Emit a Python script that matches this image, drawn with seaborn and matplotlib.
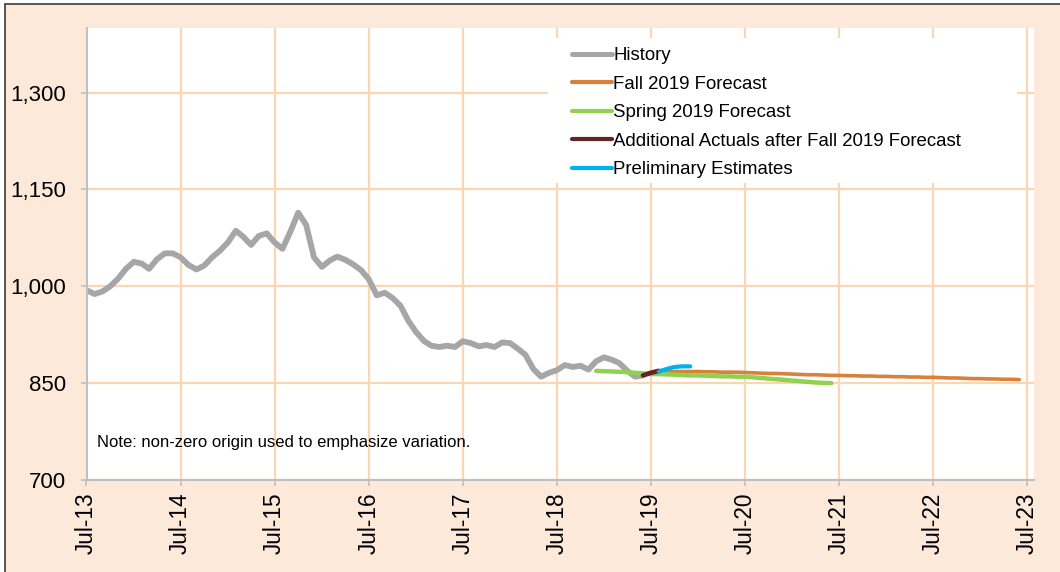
import matplotlib
matplotlib.use("Agg")
import matplotlib.pyplot as plt
import matplotlib.dates as mdates
import matplotlib.ticker as mtick
from matplotlib.patches import Rectangle
import numpy as np
import pandas as pd
import seaborn as sns

# monthly values
history_start = '2013-07-01'
history = [994, 988, 992, 1000, 1012, 1027, 1038, 1035, 1027, 1042, 1051, 1051,
           1045, 1033, 1026, 1032, 1045, 1055, 1068, 1086, 1077, 1064, 1078, 1082,
           1068, 1058, 1085, 1114, 1095, 1045, 1030, 1040, 1046, 1041, 1034, 1025,
           1011, 986, 990, 982, 970, 947, 929, 915, 908, 906, 908, 906,
           915, 912, 907, 909, 906, 913, 912, 903, 894, 872, 860, 866,
           870, 878, 875, 877, 871, 884, 890, 886, 881, 869, 860, 862]

fall_start = '2019-07-01'
fall_2019 = [866, 867, 868, 868, 868, 868, 868, 867.5, 867.5, 867, 867, 867,
             866.5, 866, 865.5, 865, 865, 864.5, 864, 863.5, 863, 863, 862.5, 862,
             862, 861.5, 861.5, 861, 861, 860.5, 860.5, 860, 860, 859.5, 859.5, 859,
             859, 858.5, 858, 858, 857.5, 857, 857, 856.5, 856.5, 856, 856, 855.5]

spring_start = '2018-12-01'
spring_2019 = [869, 868.5, 868, 867.5, 867, 866, 865, 864, 864, 863.5, 863, 862.5,
               862, 862, 861.5, 861, 860.5, 860.5, 860, 860, 859, 858, 857, 856,
               855, 854, 853, 852, 851, 850.5, 850]

actuals_start = '2019-06-01'
add_actuals = [862, 866, 869]

prelim_start = '2019-08-01'
prelim = [868, 872, 875, 876, 876]

series = [
    ('History', history_start, history, '#A6A6A6', 4.2),
    ('Fall 2019 Forecast', fall_start, fall_2019, '#D9803A', 2.6),
    ('Spring 2019 Forecast', spring_start, spring_2019, '#92D050', 3.2),
    ('Additional Actuals after Fall 2019 Forecast', actuals_start, add_actuals, '#632523', 3.4),
    ('Preliminary Estimates', prelim_start, prelim, '#00B0F0', 3.0),
]

peach = '#FDE9D9'
grid_c = '#FCD5B4'
W, H = 1060, 572

fig = plt.figure(figsize=(10.6, 5.72), dpi=100, facecolor='white')
fig.patches.append(Rectangle((5 / W, -0.1), 1.2, 1.1 - 4 / H,
                             transform=fig.transFigure, facecolor=peach,
                             edgecolor='#3A3A3A', linewidth=1.2, zorder=-10))
ax = fig.add_axes([86.5 / W, 1 - 480 / H, (1034 - 86.5) / W, (480 - 28) / H])
ax.set_facecolor('white')

for name, start, vals, color, lw in series:
    dates = pd.date_range(start, periods=len(vals), freq='MS')
    sns.lineplot(x=dates, y=vals, ax=ax, color=color, linewidth=lw, label=name,
                 solid_capstyle='round', solid_joinstyle='round')

ax.set_xlim(pd.Timestamp('2013-07-01'), pd.Timestamp('2023-07-28'))
ax.set_ylim(700, 1400)
ax.set_yticks([700, 850, 1000, 1150, 1300])
ax.yaxis.set_major_formatter(mtick.StrMethodFormatter('{x:,.0f}'))
ax.xaxis.set_major_locator(mdates.YearLocator(month=7))
ax.xaxis.set_major_formatter(mdates.DateFormatter('%b-%y'))
ax.set_xlabel('')
ax.set_ylabel('')

ax.grid(True, color=grid_c, linewidth=1.6)
ax.set_axisbelow(True)
for s in ['top', 'right']:
    ax.spines[s].set_visible(False)
for s in ['left', 'bottom']:
    ax.spines[s].set_color('#BFBFBF')
    ax.spines[s].set_linewidth(1.5)

ax.tick_params(axis='y', labelsize=16, length=4.5, width=1.2, color='#BFBFBF', pad=10)
ax.tick_params(axis='x', labelsize=16.3, length=4, width=1.2, color='#BFBFBF', pad=5,
               labelrotation=90)
for lab in ax.get_xticklabels() + ax.get_yticklabels():
    lab.set_fontfamily('Liberation Sans')

ax.text(0.011, 0.082, 'Note: non-zero origin used to emphasize variation.',
        transform=ax.transAxes, fontsize=12, family='Liberation Sans', va='center')

# white box behind the legend, hiding the grid
ax.add_patch(Rectangle((548 / W, 1 - 183 / H), 469 / W, 145 / H,
                       transform=fig.transFigure, facecolor='white',
                       edgecolor='none', zorder=1))

leg = ax.legend(loc='upper left', bbox_to_anchor=(571.5 / W, 1 - 47 / H),
                bbox_transform=fig.transFigure, frameon=False,
                prop={'family': 'Liberation Sans', 'size': 13.4},
                handlelength=2.15, handletextpad=0.1, labelspacing=0.62,
                borderpad=0, borderaxespad=0)
for h in leg.get_lines():
    h.set_solid_capstyle('round')
    h.set_linewidth(3.0)
leg.get_lines()[0].set_linewidth(3.6)

fig.savefig('out.png', dpi=100, facecolor=fig.get_facecolor())
